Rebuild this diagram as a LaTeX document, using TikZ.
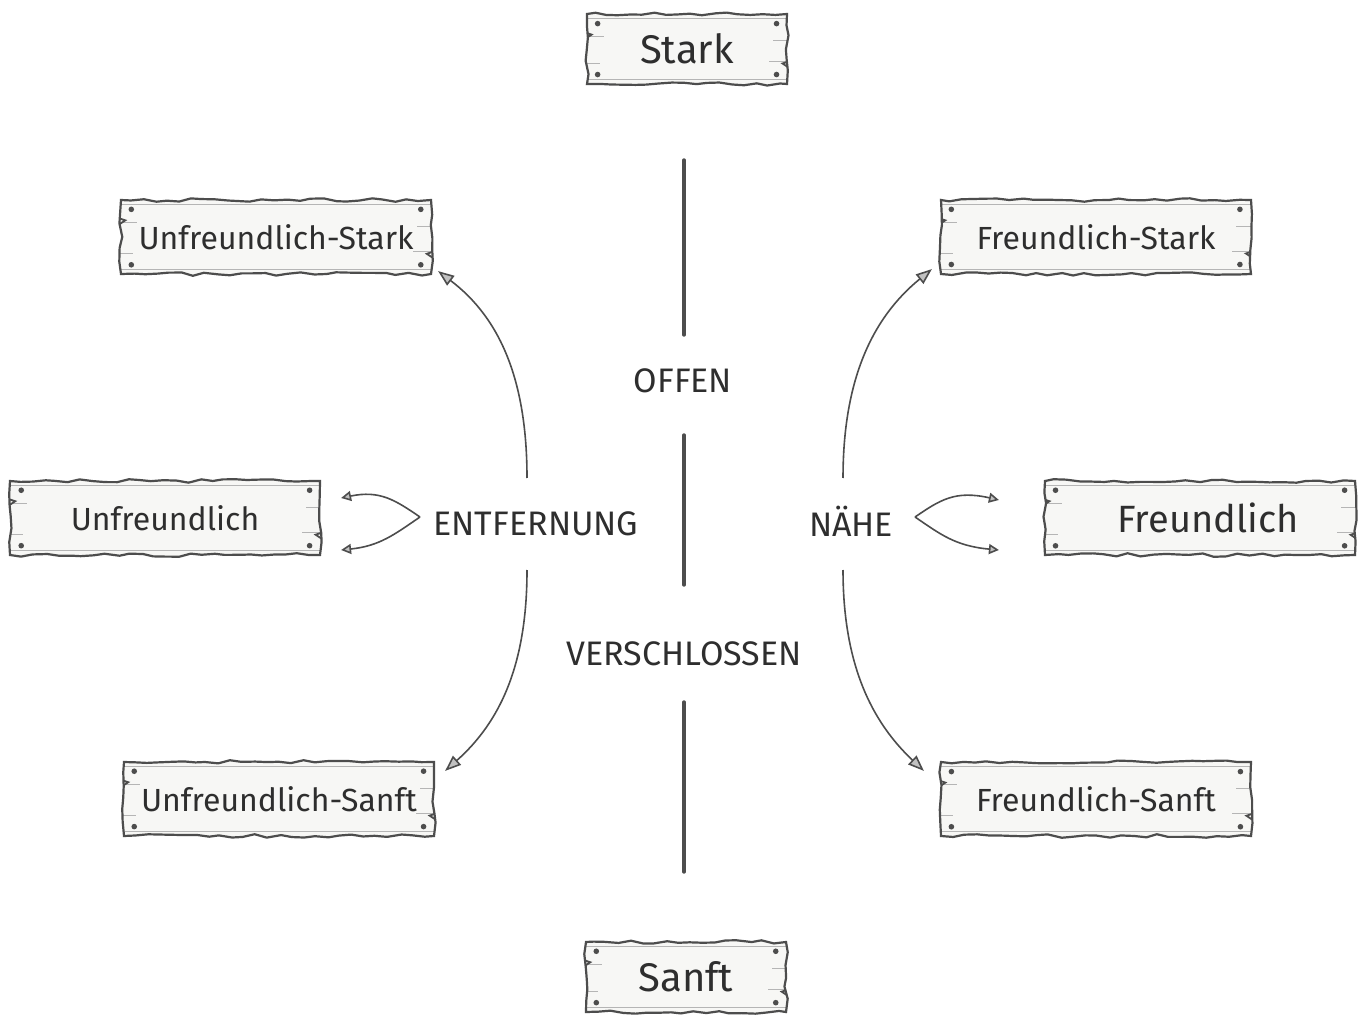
\documentclass[tikz,border=0pt]{standalone}
\usepackage{fontspec}
\setmainfont{Fira Sans}
\usetikzlibrary{arrows.meta,decorations.pathmorphing}

\definecolor{ink}{HTML}{2E2E2E}
\definecolor{pencil}{HTML}{4D4D4D}
\definecolor{plank}{HTML}{F7F7F5}
\definecolor{grain}{HTML}{B5B5B5}

\tikzset{
  board/.style={
    draw=pencil, line width=1.1pt, fill=plank, inner sep=0pt, text=ink,
    decorate, decoration={random steps, segment length=6pt, amplitude=0.9pt},
    path picture={
      % nails in the four corners
      \fill[pencil] ([shift={(6pt,5.5pt)}]path picture bounding box.south west) circle (1.4pt);
      \fill[pencil] ([shift={(-6pt,5.5pt)}]path picture bounding box.south east) circle (1.4pt);
      \fill[pencil] ([shift={(6pt,-5.5pt)}]path picture bounding box.north west) circle (1.4pt);
      \fill[pencil] ([shift={(-6pt,-5.5pt)}]path picture bounding box.north east) circle (1.4pt);
      % plank edge and wood grain
      \draw[grain, line width=0.5pt] ([shift={(0pt,-3pt)}]path picture bounding box.north west) -- ([shift={(0pt,-3pt)}]path picture bounding box.north east);
      \draw[grain, line width=0.5pt] ([shift={(0pt,3pt)}]path picture bounding box.south west) -- ([shift={(0pt,3pt)}]path picture bounding box.south east);
      \draw[grain, line width=0.6pt] ([shift={(0pt,-12pt)}]path picture bounding box.north west) -- +(9pt,0pt);
      \draw[grain, line width=0.6pt] ([shift={(0pt,11pt)}]path picture bounding box.south west) -- +(7pt,0pt);
      \draw[grain, line width=0.6pt] ([shift={(0pt,-14pt)}]path picture bounding box.north east) -- +(-8pt,0pt);
      \draw[grain, line width=0.6pt] ([shift={(0pt,12pt)}]path picture bounding box.south east) -- +(-10pt,0pt);
      % notch strokes on the split plank ends
      \draw[pencil, line width=0.9pt] ([shift={(0pt,-10pt)}]path picture bounding box.north west) -- +(3pt,-1pt) -- +(0pt,-3pt);
      \draw[pencil, line width=0.9pt] ([shift={(0pt,12pt)}]path picture bounding box.south east) -- +(-3pt,-1pt) -- +(0pt,-3pt);
    }},
  bigsign/.style={board, minimum width=100pt, minimum height=35pt, font=\fontsize{20}{24}\selectfont},
  sign/.style={board, minimum width=155pt, minimum height=37pt, font=\fontsize{16}{20}\selectfont},
  axislabel/.style={text=ink, inner sep=1pt, font=\fontsize{17}{20}\selectfont},
  divider/.style={pencil, line width=1.7pt, line cap=round},
  curve/.style={pencil, line width=0.8pt, -{Triangle[length=8pt, width=6pt, line width=0.8pt, fill=pencil!35]}},
  fork/.style={pencil, line width=0.8pt, -{Triangle[length=5pt, width=5pt, line width=0.8pt, fill=pencil!35]}},
}

\begin{document}
\begin{tikzpicture}[x=0.5pt, y=-0.5pt]
\pgfmathsetseed{11}
\useasboundingbox (0,0) rectangle (1368,1036);
\fill[white] (0,0) rectangle (1368,1036);

% signs
\node[bigsign] (stark) at (687,49) {Stark};
\node[bigsign] (sanft) at (686,977) {Sanft};
\node[sign] (ustark) at (276,237) {Unfreundlich-Stark};
\node[sign] (fstark) at (1096,237) {Freundlich-Stark};
\node[sign] (ufr) at (165,518) {Unfreundlich};
\node[sign, font=\fontsize{19}{22}\selectfont] (fr) at (1200,518) {\hspace*{8pt}Freundlich};
\node[sign] (usanft) at (279,799) {Unfreundlich-Sanft};
\node[sign] (fsanft) at (1096,799) {Freundlich-Sanft};

% axis labels
\node[axislabel] (offen) at (683,381) {OFFEN};
\node[axislabel] (entf) at (536,524) {ENTFERNUNG};
\node[axislabel] (naehe) at (851,521) {NÄHE};
\node[axislabel] (versch) at (684,654) {VERSCHLOSSEN};

% vertical pencil strokes
\coordinate (v1a) at (684,160); \coordinate (v1b) at (684,335);
\coordinate (v2a) at (684,435); \coordinate (v2b) at (684,585);
\coordinate (v3a) at (684,702); \coordinate (v3b) at (684,872);
\draw[divider] (v1a) -- (v1b);
\draw[divider] (v2a) -- (v2b);
\draw[divider] (v3a) -- (v3b);

% curved arrows towards the corner signs
\coordinate (ul) at (527,478);
\coordinate (bl) at (527,570);
\coordinate (ur) at (843,478);
\coordinate (br) at (843,570);
\draw[curve] (ul) .. controls (527,380) and (500,318) .. ([shift={(6,-4)}]ustark.south east);
\draw[curve] (bl) .. controls (527,665) and (500,722) .. ([shift={(10,10)}]usanft.north east);
\draw[curve] (ur) .. controls (843,380) and (872,318) .. ([shift={(-8,-6)}]fstark.south west);
\draw[curve] (br) .. controls (843,665) and (872,722) .. ([shift={(-16,10)}]fsanft.north west);

% forks beside ENTFERNUNG and NÄHE
\coordinate (lf) at (420,517);
\coordinate (rf) at (915,517);
\draw[fork] (lf) .. controls (395,500) and (380,490) .. ([shift={(20,-20)}]ufr.east);
\draw[fork] (lf) .. controls (395,534) and (380,546) .. ([shift={(20,32)}]ufr.east);
\draw[fork] (rf) .. controls (940,500) and (955,490) .. ([shift={(-45,-18)}]fr.west);
\draw[fork] (rf) .. controls (940,534) and (955,546) .. ([shift={(-45,32)}]fr.west);
\end{tikzpicture}
\end{document}
